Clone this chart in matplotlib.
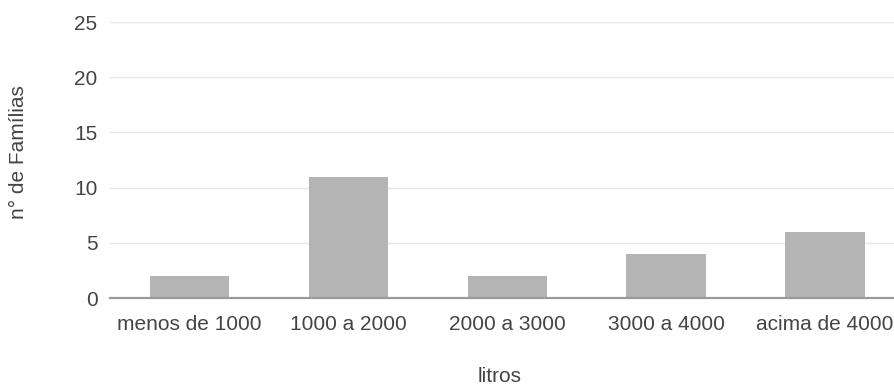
import matplotlib.pyplot as plt
import numpy as np

plt.rcParams['font.family'] = ['Liberation Sans', 'DejaVu Sans']

categorias = ['menos de 1000', '1000 a 2000', '2000 a 3000', '3000 a 4000', 'acima de 4000']
familias = [2, 11, 2, 4, 6]
yticks = [0, 5, 10, 15, 20, 25]

fig = plt.figure(figsize=(8.94, 3.85), dpi=100)
ax = fig.add_axes([110/894, 1-298/385, (904.5-110)/894, (298-22)/385])

x = np.arange(len(categorias))
ax.bar(x, familias, width=0.5, color='#b4b4b4', zorder=2)

ax.set_xlim(-0.5, len(categorias)-0.5)
ax.set_ylim(0, 25)
ax.set_yticks(yticks)
ax.set_xticks(x)
ax.set_xticklabels(categorias)

for s in ax.spines.values():
    s.set_visible(False)
ax.axhline(0, color='#9a9a9a', lw=1.6, zorder=3, clip_on=False)
for v in yticks[1:]:
    ax.axhline(v, color='#e8e8e8', lw=1.0, zorder=1)

ax.tick_params(axis='both', length=0, labelsize=15, labelcolor='#444444')
ax.tick_params(axis='y', pad=9)
ax.tick_params(axis='x', pad=12)

fig.text(19/894, 1-152/385, 'n° de Famílias', rotation=90, ha='center', va='center',
         fontsize=15, color='#444444')
fig.text(500/894, 1-377/385, 'litros', ha='center', va='center', fontsize=15, color='#444444')

fig.savefig('out.png', dpi=100)
